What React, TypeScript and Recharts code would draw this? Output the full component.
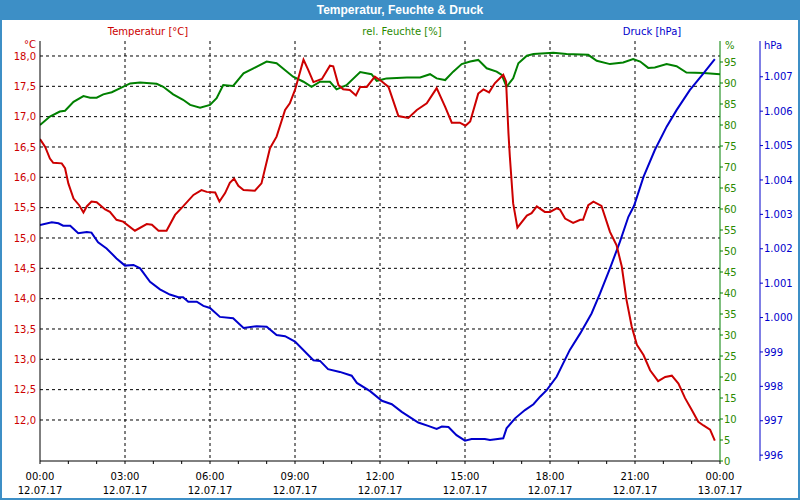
import React from 'react';
import { LineChart, Line, XAxis, YAxis, CartesianGrid } from 'recharts';

// time in minutes since 12.07.17 00:00
const tempTimes = [0,11,21,28,46,53,60,71,83,92,99,109,120,138,148,162,176,201,226,237,251,268,286,303,325,342,353,371,380,392,402,411,420,431,455,469,487,501,519,529,540,558,568,579,597,614,621,632,642,656,669,678,692,709,724,738,759,780,798,819,840,858,872,889,901,911,928,939,951,963,981,987,992,995,1002,1011,1031,1041,1052,1069,1080,1094,1101,1112,1129,1144,1150,1161,1172,1189,1207,1221,1232,1242,1253,1264,1278,1292,1309,1324,1338,1352,1366,1380,1394,1405,1419,1429];
const tempValues = [16.63,16.50,16.31,16.24,16.23,16.15,15.90,15.65,15.54,15.42,15.52,15.60,15.59,15.47,15.43,15.30,15.27,15.12,15.23,15.22,15.12,15.12,15.38,15.52,15.71,15.79,15.76,15.75,15.60,15.74,15.91,15.98,15.86,15.79,15.78,15.90,16.48,16.67,17.11,17.22,17.44,17.94,17.77,17.57,17.62,17.84,17.83,17.52,17.45,17.44,17.35,17.49,17.49,17.66,17.58,17.49,17.01,16.98,17.11,17.22,17.47,17.16,16.90,16.90,16.85,16.92,17.38,17.45,17.40,17.55,17.69,17.58,16.73,16.34,15.57,15.17,15.37,15.41,15.52,15.43,15.43,15.49,15.47,15.32,15.25,15.30,15.30,15.54,15.60,15.53,15.10,14.88,14.53,13.98,13.54,13.24,13.07,12.82,12.64,12.71,12.73,12.60,12.36,12.17,11.97,11.91,11.84,11.66];

const humTimes = [0,21,42,53,71,92,106,120,134,152,169,191,212,247,261,282,303,318,339,360,374,388,409,431,452,480,501,536,558,575,593,614,628,649,678,702,713,727,734,777,805,826,840,858,875,893,911,928,946,967,978,988,1002,1013,1031,1045,1087,1115,1161,1179,1207,1235,1256,1271,1288,1302,1327,1348,1369,1405,1440];
const humValues = [80.0,82.0,83.2,83.4,85.5,86.9,86.5,86.5,87.3,87.8,88.7,89.9,90.1,89.8,89.1,87.3,86.0,84.8,84.1,84.8,86.4,89.5,89.3,92.3,93.5,95.1,94.7,91.5,90.3,89.1,90.3,90.3,88.5,89.5,92.6,92.1,90.5,90.9,91.1,91.3,91.3,92.1,91.1,90.7,92.7,94.5,95.1,95.5,93.5,92.7,91.9,89.1,91.1,94.7,96.5,96.9,97.2,96.9,96.7,95.3,94.5,94.9,95.7,95.1,93.6,93.7,94.5,94.0,92.5,92.4,92.1];

const pressTimes = [0,25,39,49,64,81,99,109,123,141,162,180,198,212,233,254,275,293,303,314,332,346,360,381,409,431,459,480,501,519,540,579,593,610,635,660,671,699,724,745,766,801,822,840,851,865,882,900,914,942,953,981,988,1006,1027,1045,1059,1073,1094,1122,1144,1168,1186,1207,1228,1246,1258,1278,1302,1327,1348,1376,1405,1429];
const pressValues = [1002.69,1002.77,1002.74,1002.67,1002.67,1002.45,1002.49,1002.47,1002.19,1002.01,1001.72,1001.51,1001.53,1001.43,1001.04,1000.82,1000.67,1000.59,1000.59,1000.46,1000.46,1000.34,1000.28,1000.02,999.98,999.70,999.75,999.73,999.49,999.46,999.30,998.76,998.74,998.50,998.42,998.31,998.10,997.86,997.58,997.48,997.26,996.95,996.85,996.76,996.83,996.82,996.58,996.42,996.47,996.47,996.44,996.49,996.78,997.07,997.31,997.48,997.70,997.89,998.28,999.06,999.54,1000.12,1000.70,1001.43,1002.20,1002.93,1003.25,1004.09,1004.87,1005.55,1006.03,1006.61,1007.10,1007.51];

const hourTicks = [0,60,120,180,240,300,360,420,480,540,600,660,720,780,840,900,960,1020,1080,1140,1200,1260,1320,1380,1440];
const labelTimes = [0,180,360,540,720,900,1080,1260,1440];
const timeLabels = ['00:00','03:00','06:00','09:00','12:00','15:00','18:00','21:00','00:00'];
const dateLabels = ['12.07.17','12.07.17','12.07.17','12.07.17','12.07.17','12.07.17','12.07.17','12.07.17','13.07.17'];
const gridTimes = [180,360,540,720,900,1080,1260];

const tempTicks = [12,12.5,13,13.5,14,14.5,15,15.5,16,16.5,17,17.5,18];
const humTicks = [0,5,10,15,20,25,30,35,40,45,50,55,60,65,70,75,80,85,90,95];
const pressTicks = [996,997,998,999,1000,1001,1002,1003,1004,1005,1006,1007];

const tempData = tempTimes.map((t, i) => ({ t, v: tempValues[i] }));
const humData = humTimes.map((t, i) => ({ t, v: humValues[i] }));
const pressData = pressTimes.map((t, i) => ({ t, v: pressValues[i] }));

const FONT = '"DejaVu Sans", sans-serif';
const RED = '#cc0000';
const GREEN = '#008000';
const GREEN_TXT = '#2a8a00';
const BLUE = '#0000cc';
const BAR = '#3d8fc6';

const fmtTemp = (v: number) => v.toFixed(1).replace('.', ',');
const fmtPress = (v: number) => (v >= 1000 ? '1.' + String(v - 1000).padStart(3, '0') : String(v));

const XTick = (props: any) => {
  const { x, y, payload } = props;
  const idx = labelTimes.indexOf(payload.value);
  if (idx < 0) return <g />;
  return (
    <g>
      <text x={x} y={y + 13.5} textAnchor="middle" fontSize={10} fontFamily={FONT} fill="#000">{timeLabels[idx]}</text>
      <text x={x} y={y + 28} textAnchor="middle" fontSize={10} fontFamily={FONT} fill="#000">{dateLabels[idx]}</text>
    </g>
  );
};

const textStyle: React.CSSProperties = { position: 'absolute', fontFamily: FONT, fontSize: 10, lineHeight: '12px', whiteSpace: 'nowrap' };

export default function App() {
  return (
    <div style={{ position: 'absolute', left: 0, top: 0, width: 800, height: 500, background: '#fff', overflow: 'hidden' }}>
      <LineChart width={800} height={500} margin={{ top: 41, right: 0, bottom: 0, left: 0 }} style={{ position: 'absolute', left: 0, top: 0 }}>
        <CartesianGrid yAxisId="temp" stroke="#000" strokeDasharray="3 3" verticalValues={gridTimes} horizontalValues={tempTicks} />
        <XAxis
          dataKey="t"
          type="number"
          domain={[0, 1440]}
          ticks={hourTicks}
          interval={0}
          allowDataOverflow
          height={39}
          tickSize={3}
          tickMargin={2}
          axisLine={{ stroke: '#000' }}
          tickLine={{ stroke: '#000' }}
          tick={<XTick />}
        />
        <XAxis xAxisId="top" orientation="top" type="number" domain={[0, 1440]} height={0} tick={false} tickLine={false} axisLine={{ stroke: '#000' }} />
        <YAxis
          yAxisId="temp"
          orientation="left"
          width={40}
          type="number"
          domain={[11.324, 18.247]}
          allowDataOverflow
          ticks={tempTicks}
          interval={0}
          tickFormatter={fmtTemp}
          tickLine={false}
          tickSize={0}
          tickMargin={4}
          axisLine={{ stroke: '#000' }}
          tick={{ fill: RED, fontSize: 10, fontFamily: FONT }}
        />
        <YAxis
          yAxisId="hum"
          orientation="right"
          width={40}
          type="number"
          domain={[0, 100]}
          allowDataOverflow
          ticks={humTicks}
          interval={0}
          tickSize={3}
          tickMargin={1}
          axisLine={{ stroke: GREEN }}
          tickLine={{ stroke: GREEN }}
          tick={{ fill: GREEN_TXT, fontSize: 10, fontFamily: FONT }}
        />
        <YAxis
          yAxisId="press"
          orientation="right"
          width={40}
          type="number"
          domain={[995.83, 1008.04]}
          allowDataOverflow
          ticks={pressTicks}
          interval={0}
          tickFormatter={fmtPress}
          tickSize={3}
          tickMargin={1}
          axisLine={{ stroke: BLUE }}
          tickLine={{ stroke: BLUE }}
          tick={{ fill: BLUE, fontSize: 10, fontFamily: FONT }}
        />
        <Line yAxisId="hum" data={humData} dataKey="v" type="linear" stroke={GREEN} strokeWidth={2} dot={false} isAnimationActive={false} />
        <Line yAxisId="press" data={pressData} dataKey="v" type="linear" stroke={BLUE} strokeWidth={2} dot={false} isAnimationActive={false} />
        <Line yAxisId="temp" data={tempData} dataKey="v" type="linear" stroke={RED} strokeWidth={2} dot={false} isAnimationActive={false} />
      </LineChart>

      <div style={{ position: 'absolute', left: 0, top: 0, width: 800, height: 20, background: BAR, color: '#fff', fontFamily: '"Liberation Sans", Arial, sans-serif', fontWeight: 'bold', fontSize: 12, lineHeight: '20px', textAlign: 'center' }}>
        Temperatur, Feuchte &amp; Druck
      </div>

      <div style={{ ...textStyle, left: 48, top: 26, width: 200, textAlign: 'center', color: RED }}>Temperatur [°C]</div>
      <div style={{ ...textStyle, left: 302, top: 26, width: 200, textAlign: 'center', color: GREEN_TXT }}>rel. Feuchte [%]</div>
      <div style={{ ...textStyle, left: 552, top: 26, width: 200, textAlign: 'center', color: BLUE }}>Druck [hPa]</div>

      <div style={{ ...textStyle, left: 0, top: 39, width: 36, textAlign: 'right', color: RED }}>°C</div>
      <div style={{ ...textStyle, left: 725, top: 40, color: GREEN_TXT }}>%</div>
      <div style={{ ...textStyle, left: 764, top: 40, color: BLUE }}>hPa</div>

      <div style={{ position: 'absolute', left: 0, top: 0, width: 800, height: 500, boxSizing: 'border-box', border: `2px solid ${BAR}`, pointerEvents: 'none' }} />
    </div>
  );
}
